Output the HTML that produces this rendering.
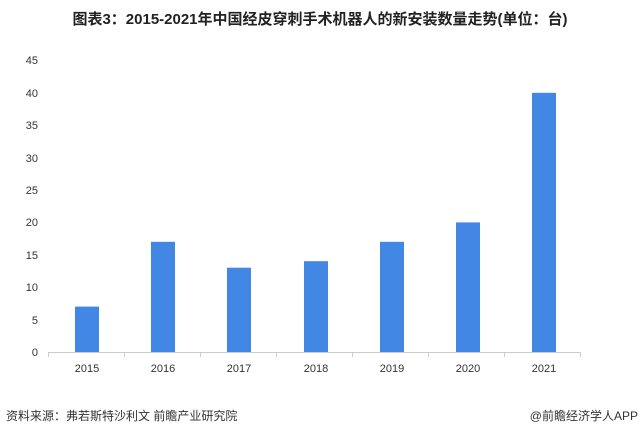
<!DOCTYPE html>
<html><head><meta charset="utf-8"><style>
body{margin:0;width:640px;height:436px;background:#fff;overflow:hidden;font-family:"Liberation Sans","Noto Sans CJK SC",sans-serif}
</style></head><body>
<svg width="640" height="436" xmlns="http://www.w3.org/2000/svg" font-family="Liberation Sans, Noto Sans CJK SC, sans-serif">
<text x="320" y="24" text-anchor="middle" font-size="15" font-weight="bold" fill="#222">图表3：2015-2021年中国经皮穿刺手术机器人的新安装数量走势(单位：台)</text>
<g font-size="11" fill="#333" text-anchor="end">
<text x="38" y="64">45</text><text x="38" y="97">40</text><text x="38" y="129">35</text><text x="38" y="162">30</text><text x="38" y="194">25</text><text x="38" y="226">20</text><text x="38" y="259">15</text><text x="38" y="291">10</text><text x="38" y="324">5</text><text x="38" y="356">0</text>
</g>
<g fill="#4287e3">
<rect x="75" y="306.6" width="24" height="45.4"/>
<rect x="151" y="241.8" width="24" height="110.2"/>
<rect x="227" y="267.7" width="24" height="84.3"/>
<rect x="304" y="261.2" width="24" height="90.8"/>
<rect x="380" y="241.8" width="24" height="110.2"/>
<rect x="456" y="222.4" width="24" height="129.6"/>
<rect x="532" y="92.8" width="24" height="259.2"/>
</g>
<g stroke="#ccc" stroke-width="1">
<line x1="48" y1="352.5" x2="581" y2="352.5"/>
<line x1="48.5" y1="352" x2="48.5" y2="357"/><line x1="124.5" y1="352" x2="124.5" y2="357"/><line x1="200.5" y1="352" x2="200.5" y2="357"/><line x1="276.5" y1="352" x2="276.5" y2="357"/><line x1="352.5" y1="352" x2="352.5" y2="357"/><line x1="428.5" y1="352" x2="428.5" y2="357"/><line x1="504.5" y1="352" x2="504.5" y2="357"/><line x1="580.5" y1="352" x2="580.5" y2="357"/>
</g>
<g font-size="11" fill="#333" text-anchor="middle">
<text x="87" y="372">2015</text><text x="163" y="372">2016</text><text x="239" y="372">2017</text><text x="316" y="372">2018</text><text x="392" y="372">2019</text><text x="468" y="372">2020</text><text x="544" y="372">2021</text>
</g>
<text x="6" y="420" font-size="12" fill="#333">资料来源：弗若斯特沙利文 前瞻产业研究院</text>
<text x="638" y="420" font-size="12" fill="#333" text-anchor="end">@前瞻经济学人APP</text>
</svg>
</body></html>
